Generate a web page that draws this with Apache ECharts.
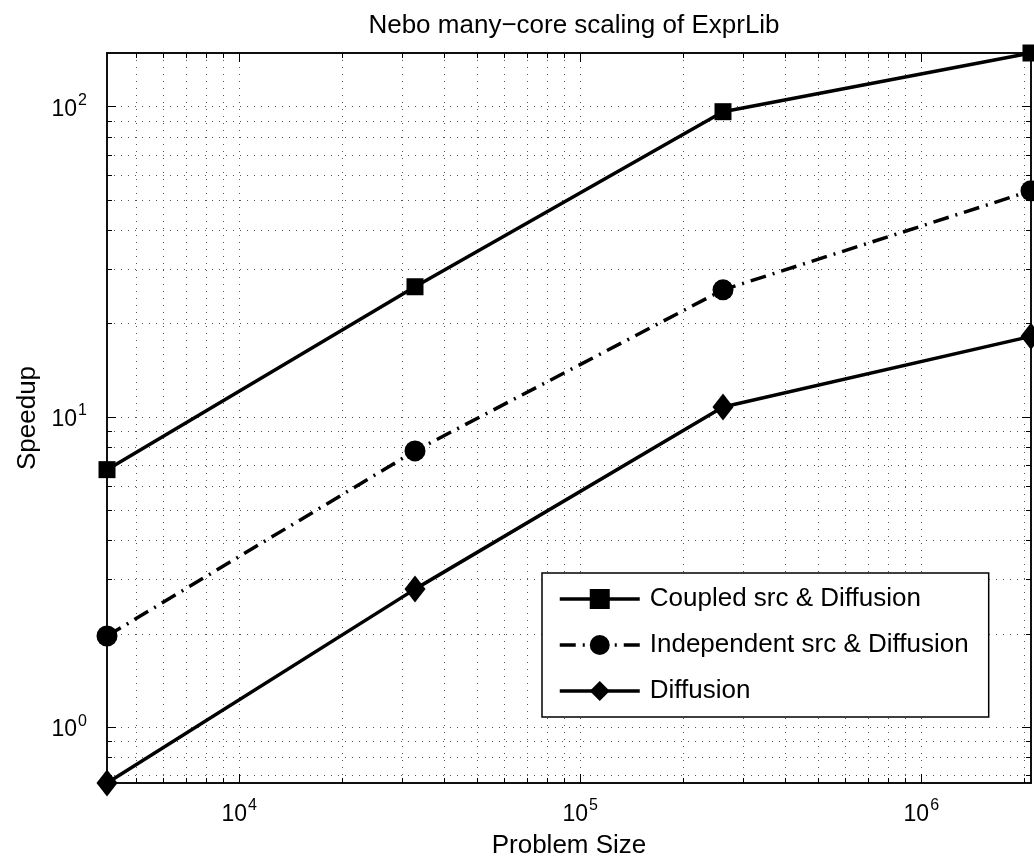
<!DOCTYPE html>
<html>
<head>
<meta charset="utf-8">
<script src="https://cdn.jsdelivr.net/npm/echarts@6/dist/echarts.min.js"></script>
<style>
  html, body { margin: 0; padding: 0; background: #fff; }
  #chart { width: 1034px; height: 860px; }
</style>
</head>
<body>
<div id="chart"></div>
<script>
// problem sizes (2^12 .. 2^21) and measured speedups
const problemSizes = [4096, 32768, 262144, 2097152]
const coupled = [6.77, 26.3, 96.4, 149]
const independent = [1.97, 7.78, 25.7, 53.6]
const diffusion = [0.662, 2.79, 10.77, 18.2]

// labelled decades
const xMajor = [1e4, 1e5, 1e6]
const yMajor = [1, 10, 100]

// grid / minor tick positions
const xMinor = [5e3, 6e3, 7e3, 8e3, 9e3, 1e4, 2e4, 3e4, 4e4, 5e4, 6e4, 7e4, 8e4, 9e4,
  1e5, 2e5, 3e5, 4e5, 5e5, 6e5, 7e5, 8e5, 9e5, 1e6, 2e6]
const yMinor = [0.7, 0.8, 0.9, 1, 2, 3, 4, 5, 6, 7, 8, 9, 10, 20, 30, 40, 50, 60, 70, 80, 90, 100]

const xMin = 4096
const xMax = 2097152
const yMin = 0.662
const yMax = 149

const font = 'Liberation Sans'

const supFormatter = (v) => '{b|10}{sup|' + Math.round(Math.log10(v)) + '}'
const supRich = {
  b: { fontSize: 23, fontFamily: font, color: '#000', verticalAlign: 'bottom' },
  sup: { fontSize: 16, fontFamily: font, color: '#000', verticalAlign: 'bottom', padding: [0, 0, 12, 1] }
}

const gridLine = { show: true, lineStyle: { color: '#555', width: 1, type: [1, 6] } }
const axisLine = { show: true, lineStyle: { color: '#000', width: 1.5 } }

function makeX (position, ticks, len, extra) {
  return Object.assign({
    type: 'log',
    logBase: 10,
    min: xMin,
    max: xMax,
    position: position,
    axisLine: axisLine,
    axisTick: { show: true, inside: true, length: len, customValues: ticks, lineStyle: { color: '#000', width: 1 } },
    axisLabel: { show: false },
    splitLine: { show: false }
  }, extra || {})
}

function makeY (position, ticks, len, extra) {
  return Object.assign({
    type: 'log',
    logBase: 10,
    min: yMin,
    max: yMax,
    position: position,
    axisLine: axisLine,
    axisTick: { show: true, inside: true, length: len, customValues: ticks, lineStyle: { color: '#000', width: 1 } },
    axisLabel: { show: false },
    splitLine: { show: false }
  }, extra || {})
}

const myChart = echarts.init(document.getElementById('chart'))

myChart.setOption({
  animation: false,
  backgroundColor: '#fff',
  title: {
    text: 'Nebo many\u2212core scaling of ExprLib',
    left: 569,
    textAlign: 'center',
    top: 8,
    textStyle: { fontFamily: font, fontSize: 26, fontWeight: 'normal', color: '#000' }
  },
  grid: { left: 107, right: 3, top: 53, bottom: 77, outerBoundsMode: 'none' },
  legend: {
    orient: 'vertical',
    left: 542,
    top: 573,
    itemWidth: 80,
    itemHeight: 25,
    itemGap: 20,
    padding: [13, 20, 13, 16],
    borderColor: '#000',
    borderWidth: 1.5,
    backgroundColor: '#fff',
    lineStyle: { width: 3.5 },
    textStyle: { fontFamily: font, fontSize: 26, color: '#000', padding: [0, 0, 0, 5] },
    data: ['Coupled src & Diffusion', 'Independent src & Diffusion', 'Diffusion']
  },
  xAxis: [
    makeX('bottom', xMinor, 5, {
      name: 'Problem Size',
      nameLocation: 'middle',
      nameGap: 50,
      nameTextStyle: { fontFamily: font, fontSize: 26, color: '#000' },
      axisLabel: { show: true, customValues: xMajor, margin: 15, formatter: supFormatter, rich: supRich },
      splitLine: gridLine
    }),
    makeX('bottom', xMajor, 9),
    makeX('top', xMinor, 5),
    makeX('top', xMajor, 9)
  ],
  yAxis: [
    makeY('left', yMinor, 5, {
      name: 'Speedup',
      nameLocation: 'middle',
      nameRotate: 90,
      nameGap: 62,
      nameTextStyle: { fontFamily: font, fontSize: 26, color: '#000' },
      axisLabel: { show: true, customValues: yMajor, margin: 20, formatter: supFormatter, rich: supRich },
      splitLine: gridLine
    }),
    makeY('left', yMajor, 9),
    makeY('right', yMinor, 5),
    makeY('right', yMajor, 9)
  ],
  series: [
    {
      name: 'Coupled src & Diffusion',
      type: 'line',
      clip: false,
      data: problemSizes.map((x, i) => [x, coupled[i]]),
      symbol: 'rect',
      symbolSize: 17,
      itemStyle: { color: '#000' },
      lineStyle: { color: '#000', width: 3.5 }
    },
    {
      name: 'Independent src & Diffusion',
      type: 'line',
      clip: false,
      data: problemSizes.map((x, i) => [x, independent[i]]),
      symbol: 'circle',
      symbolSize: 21,
      itemStyle: { color: '#000' },
      lineStyle: { color: '#000', width: 3.5, type: [16, 7, 2, 7] }
    },
    {
      name: 'Diffusion',
      type: 'line',
      clip: false,
      data: problemSizes.map((x, i) => [x, diffusion[i]]),
      symbol: 'diamond',
      symbolSize: [21, 27],
      itemStyle: { color: '#000' },
      lineStyle: { color: '#000', width: 3.5 }
    }
  ]
})
</script>
</body>
</html>
